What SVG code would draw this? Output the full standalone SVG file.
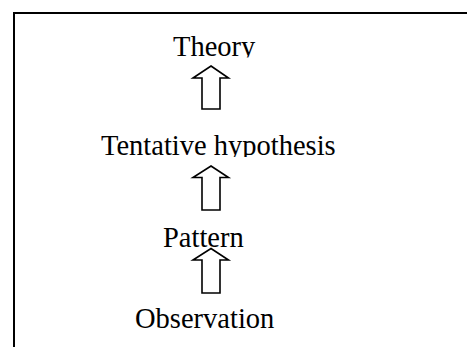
<svg xmlns="http://www.w3.org/2000/svg" width="467" height="347" viewBox="0 0 467 347">
<style>
.t{font-family:"Liberation Serif","Times New Roman",serif;font-size:28.5px;fill:#000}
.a{fill:#fff;stroke:#000;stroke-width:1.6;stroke-linejoin:miter}
.b{stroke:#000;stroke-width:2;fill:none}
</style>
<defs>
<clipPath id="c1"><rect x="0" y="0" width="467" height="57.5"/></clipPath>
<clipPath id="c2"><rect x="0" y="100" width="467" height="57"/></clipPath>
</defs>
<rect width="467" height="347" fill="#fff"/>
<g id="frame">
<line class="b" x1="13" y1="13" x2="467" y2="13"/>
<line class="b" x1="14" y1="12" x2="14" y2="347"/>
</g>
<g id="theory"><text class="t" x="173" y="56" clip-path="url(#c1)">Theory</text></g>
<g id="tentative"><text class="t" x="101" y="155" clip-path="url(#c2)">Tentative hypothesis</text></g>
<g id="pattern"><text class="t" x="163" y="247">Pattern</text></g>
<g id="observation"><text class="t" x="135" y="328">Observation</text></g>
<g id="connectors">
<polygon class="a" points="211,66 228.5,78 220,78 220,109 202,109 202,78 193,78"/>
<polygon class="a" points="211,166 228.5,177.5 220,177.5 220,210 202,210 202,177.5 193,177.5"/>
<polygon class="a" points="211,248.5 228.5,260 220,260 220,293 202,293 202,260 193,260"/>
</g>
</svg>
